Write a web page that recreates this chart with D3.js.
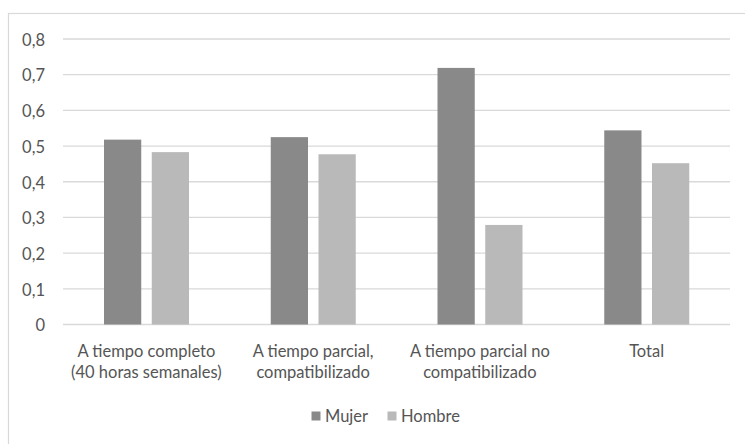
<!DOCTYPE html>
<html>
<head>
<meta charset="utf-8">
<script src="https://cdn.jsdelivr.net/npm/d3@7"></script>
<style>
  html, body { margin: 0; padding: 0; background: #fff; }
  svg { display: block; font-family: Lato, "Open Sans", sans-serif; }
</style>
</head>
<body>
<svg id="chart" width="745" height="444"></svg>
<script>
const categories = [
  ["A tiempo completo", "(40 horas semanales)"],
  ["A tiempo parcial,", "compatibilizado"],
  ["A tiempo parcial no", "compatibilizado"],
  ["Total"]
];
const seriesNames = ["Mujer", "Hombre"];
const mujer = [0.518, 0.525, 0.719, 0.544];
const hombre = [0.483, 0.477, 0.279, 0.452];
const yTicks = [0, 0.1, 0.2, 0.3, 0.4, 0.5, 0.6, 0.7, 0.8];
const colors = ["#898989", "#b9b9b9"];

(function () {
const svg = d3.select("#chart");
const textColor = "#555555";
const fs = "16.5px";

// outer chart border
svg.append("rect")
  .attr("x", 8.5).attr("y", 13.5)
  .attr("width", 760).attr("height", 460)
  .attr("fill", "none").attr("stroke", "#d9d9d9").attr("stroke-width", 1.2);

const pLeft = 63, pRight = 730, pTop = 39, pBottom = 324.5;

const x0 = d3.scaleBand().domain(d3.range(categories.length)).range([pLeft, pRight]).padding(0);
const x1 = d3.scaleBand().domain(seriesNames).range([41, 126]).paddingInner(0.22).paddingOuter(0);
const y = d3.scaleLinear().domain([0, 0.8]).range([pBottom, pTop]);

// gridlines
svg.append("g").selectAll("line").data(yTicks).join("line")
  .attr("x1", pLeft).attr("x2", pRight)
  .attr("y1", d => y(d)).attr("y2", d => y(d))
  .attr("stroke", "#d9d9d9").attr("stroke-width", 1.3);

// y axis labels
const yAxis = d3.axisLeft(y).tickValues(yTicks).tickSize(0).tickPadding(0)
  .tickFormat(d => d3.format(".1~f")(d).replace(".", ","));
const gy = svg.append("g").attr("transform", "translate(45,1)").call(yAxis);
gy.select(".domain").remove();
gy.selectAll("text").attr("fill", textColor).style("font-size", fs)
  .style("font-family", "Lato, 'Open Sans', sans-serif");

// bars
const data = categories.map((c, i) => ({ i, vals: [mujer[i], hombre[i]] }));
const groups = svg.append("g").selectAll("g").data(data).join("g")
  .attr("transform", d => `translate(${x0(d.i)},0)`);
groups.selectAll("rect").data(d => d.vals.map((v, k) => ({ v, k })))
  .join("rect")
  .attr("x", d => x1(seriesNames[d.k]))
  .attr("width", x1.bandwidth())
  .attr("y", d => y(d.v))
  .attr("height", d => y(0) - y(d.v))
  .attr("fill", d => colors[d.k]);

// x labels
const xl = svg.append("g").selectAll("text").data(categories).join("text")
  .attr("text-anchor", "middle")
  .attr("fill", textColor)
  .style("font-size", fs);
xl.each(function(lines, i) {
  const t = d3.select(this);
  lines.forEach((ln, j) => {
    t.append("tspan")
      .attr("x", x0(i) + x0.bandwidth() / 2)
      .attr("y", 357 + j * 21)
      .text(ln);
  });
});

// legend
const legend = svg.append("g");
const legItems = [
  { sx: 311.5, tx: 325 },
  { sx: 387.5, tx: 401 }
];
legItems.forEach((it, k) => {
  legend.append("rect").attr("x", it.sx).attr("y", 411.5).attr("width", 9).attr("height", 9)
    .attr("fill", colors[k]);
  legend.append("text").attr("x", it.tx).attr("y", 422)
    .attr("fill", textColor).style("font-size", fs).text(seriesNames[k]);
});
})();
</script>
</body>
</html>
